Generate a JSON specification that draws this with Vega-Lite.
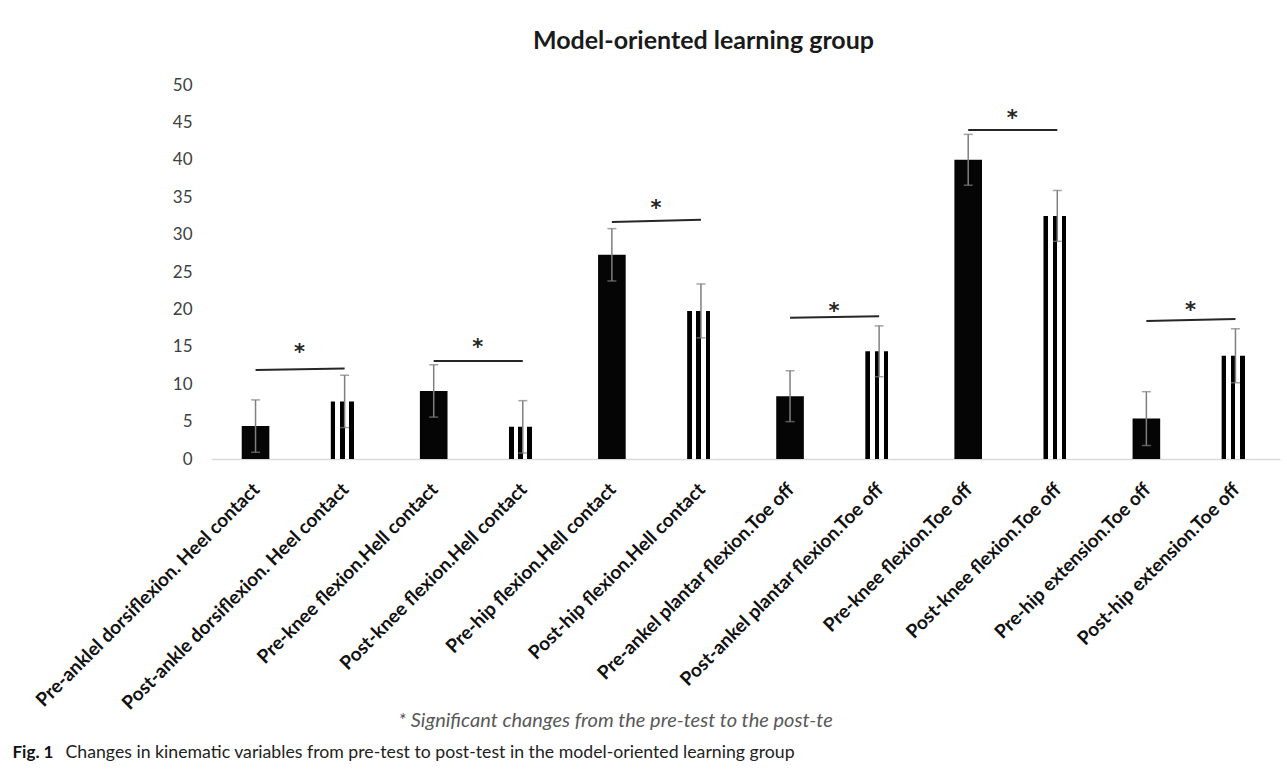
{
  "$schema": "https://vega.github.io/schema/vega-lite/v6.json",
  "width": 1069,
  "height": 374,
  "autosize": {"type": "none"},
  "padding": {"left": 211, "top": 85, "right": 7, "bottom": 313},
  "background": "white",
  "config": {
    "view": {"stroke": null},
    "font": "Lato",
    "axis": {"grid": false, "ticks": false}
  },
  "title": {
    "text": "Model-oriented learning group",
    "font": "Lato",
    "fontSize": 25,
    "fontWeight": "bold",
    "color": "#1a1a1a",
    "anchor": "middle",
    "dx": -42,
    "offset": 22
  },
  "data": {
    "values": [
      {"name": "Pre-anklel dorsiflexion. Heel contact", "phase": "Pre", "mean": 4.4, "sd": 3.5, "partner": "Post-ankle dorsiflexion. Heel contact", "l1": 11.9, "l2": 12.1, "star": 15.0},
      {"name": "Post-ankle dorsiflexion. Heel contact", "phase": "Post", "mean": 7.7, "sd": 3.5},
      {"name": "Pre-knee flexion.Hell contact", "phase": "Pre", "mean": 9.1, "sd": 3.5, "partner": "Post-knee flexion.Hell contact", "l1": 13.1, "l2": 13.1, "star": 15.7},
      {"name": "Post-knee flexion.Hell contact", "phase": "Post", "mean": 4.3, "sd": 3.5},
      {"name": "Pre-hip flexion.Hell contact", "phase": "Pre", "mean": 27.3, "sd": 3.5, "partner": "Post-hip flexion.Hell contact", "l1": 31.7, "l2": 32.0, "star": 34.2},
      {"name": "Post-hip flexion.Hell contact", "phase": "Post", "mean": 19.8, "sd": 3.6},
      {"name": "Pre-ankel plantar flexion.Toe off", "phase": "Pre", "mean": 8.4, "sd": 3.4, "partner": "Post-ankel plantar flexion.Toe off", "l1": 18.9, "l2": 19.1, "star": 20.4},
      {"name": "Post-ankel plantar flexion.Toe off", "phase": "Post", "mean": 14.4, "sd": 3.4},
      {"name": "Pre-knee flexion.Toe off", "phase": "Pre", "mean": 40.0, "sd": 3.4, "partner": "Post-knee flexion.Toe off", "l1": 44.0, "l2": 44.0, "star": 46.2},
      {"name": "Post-knee flexion.Toe off", "phase": "Post", "mean": 32.5, "sd": 3.4},
      {"name": "Pre-hip extension.Toe off", "phase": "Pre", "mean": 5.4, "sd": 3.6, "partner": "Post-hip extension.Toe off", "l1": 18.45, "l2": 18.7, "star": 20.6},
      {"name": "Post-hip extension.Toe off", "phase": "Post", "mean": 13.8, "sd": 3.6}
    ]
  },
  "encoding": {
    "x": {
      "field": "name",
      "type": "nominal",
      "sort": null,
      "scale": {
        "domain": [
          "Pre-anklel dorsiflexion. Heel contact",
          "Post-ankle dorsiflexion. Heel contact",
          "Pre-knee flexion.Hell contact",
          "Post-knee flexion.Hell contact",
          "Pre-hip flexion.Hell contact",
          "Post-hip flexion.Hell contact",
          "Pre-ankel plantar flexion.Toe off",
          "Post-ankel plantar flexion.Toe off",
          "Pre-knee flexion.Toe off",
          "Post-knee flexion.Toe off",
          "Pre-hip extension.Toe off",
          "Post-hip extension.Toe off"
        ],
        "paddingInner": 0.69,
        "paddingOuter": 0.345
      },
      "axis": {
        "labelAngle": -45,
        "labelAlign": "right",
        "labelBaseline": "middle",
        "labelFont": "Lato",
        "labelFontSize": 19,
        "labelFontWeight": "bold",
        "labelColor": "#111111",
        "labelPadding": 27,
        "labelOffset": 1,
        "labelLimit": 500,
        "domain": true,
        "domainColor": "#d9d9d9",
        "domainWidth": 1.5,
        "title": "* Significant changes from the pre-test to the post-te",
        "titleFont": "Lato",
        "titleFontStyle": "italic",
        "titleFontWeight": "normal",
        "titleFontSize": 20,
        "titleColor": "#595959",
        "titleX": 404,
        "titleY": 261,
        "titleAlign": "center",
        "titleBaseline": "middle"
      }
    }
  },
  "layer": [
    {
      "mark": {"type": "bar"},
      "encoding": {
        "y": {
          "field": "mean",
          "type": "quantitative",
          "scale": {"domain": [0, 50], "nice": false},
          "axis": {
            "orient": "left",
            "values": [0, 5, 10, 15, 20, 25, 30, 35, 40, 45, 50],
            "domain": false,
            "labelFont": "Lato",
            "labelFontSize": 17,
            "labelColor": "#404040",
            "labelPadding": 19,
            "title": "Fig. 1",
            "titleFont": "Lato",
            "titleFontSize": 17,
            "titleFontWeight": "bold",
            "titleColor": "#111111",
            "titleAngle": 0,
            "titleAlign": "left",
            "titleBaseline": "middle",
            "titleX": -199,
            "titleY": 667
          }
        },
        "fill": {
          "condition": {
            "test": "datum.phase === 'Post'",
            "value": {
              "gradient": "linear",
              "x1": 0, "y1": 0, "x2": 1, "y2": 0,
              "stops": [
                {"offset": 0, "color": "#000000"},
                {"offset": 0.1667, "color": "#000000"},
                {"offset": 0.1667, "color": "#ffffff"},
                {"offset": 0.3333, "color": "#ffffff"},
                {"offset": 0.3333, "color": "#000000"},
                {"offset": 0.5, "color": "#000000"},
                {"offset": 0.5, "color": "#ffffff"},
                {"offset": 0.6667, "color": "#ffffff"},
                {"offset": 0.6667, "color": "#000000"},
                {"offset": 0.8333, "color": "#000000"},
                {"offset": 0.8333, "color": "#ffffff"},
                {"offset": 1, "color": "#ffffff"}
              ]
            }
          },
          "value": "#050505"
        }
      }
    },
    {
      "mark": {
        "type": "errorbar",
        "ticks": {"size": 9, "color": "#7f7f7f", "thickness": 1.5},
        "rule": {"color": "#7f7f7f", "strokeWidth": 1.5}
      },
      "encoding": {
        "y": {"field": "mean", "type": "quantitative", "axis": null},
        "yError": {"field": "sd"}
      }
    },
    {
      "transform": [{"filter": "datum.phase === 'Pre'"}],
      "mark": {"type": "rule", "color": "#262626", "strokeWidth": 2},
      "encoding": {
        "x2": {"field": "partner"},
        "y": {
          "field": "l1",
          "type": "quantitative",
          "axis": {
            "orient": "left",
            "domain": false,
            "labels": false,
            "ticks": false,
            "title": "Changes in kinematic variables from pre-test to post-test in the model-oriented learning group",
            "titleFont": "Lato",
            "titleFontSize": 17.7,
            "titleFontWeight": "normal",
            "titleColor": "#222222",
            "titleAngle": 0,
            "titleAlign": "left",
            "titleBaseline": "middle",
            "titleX": -146,
            "titleY": 667,
            "titleLimit": 1000
          }
        },
        "y2": {"field": "l2"}
      }
    },
    {
      "transform": [{"filter": "datum.phase === 'Pre'"}],
      "mark": {"type": "text", "text": "*", "fontSize": 21, "font": "DejaVu Sans", "fontWeight": "bold", "color": "#262626", "dx": 44, "dy": 6, "baseline": "middle"},
      "encoding": {
        "y": {"field": "star", "type": "quantitative", "axis": null}
      }
    }
  ],
  "resolve": {"scale": {"y": "shared"}, "axis": {"y": "independent"}}
}
